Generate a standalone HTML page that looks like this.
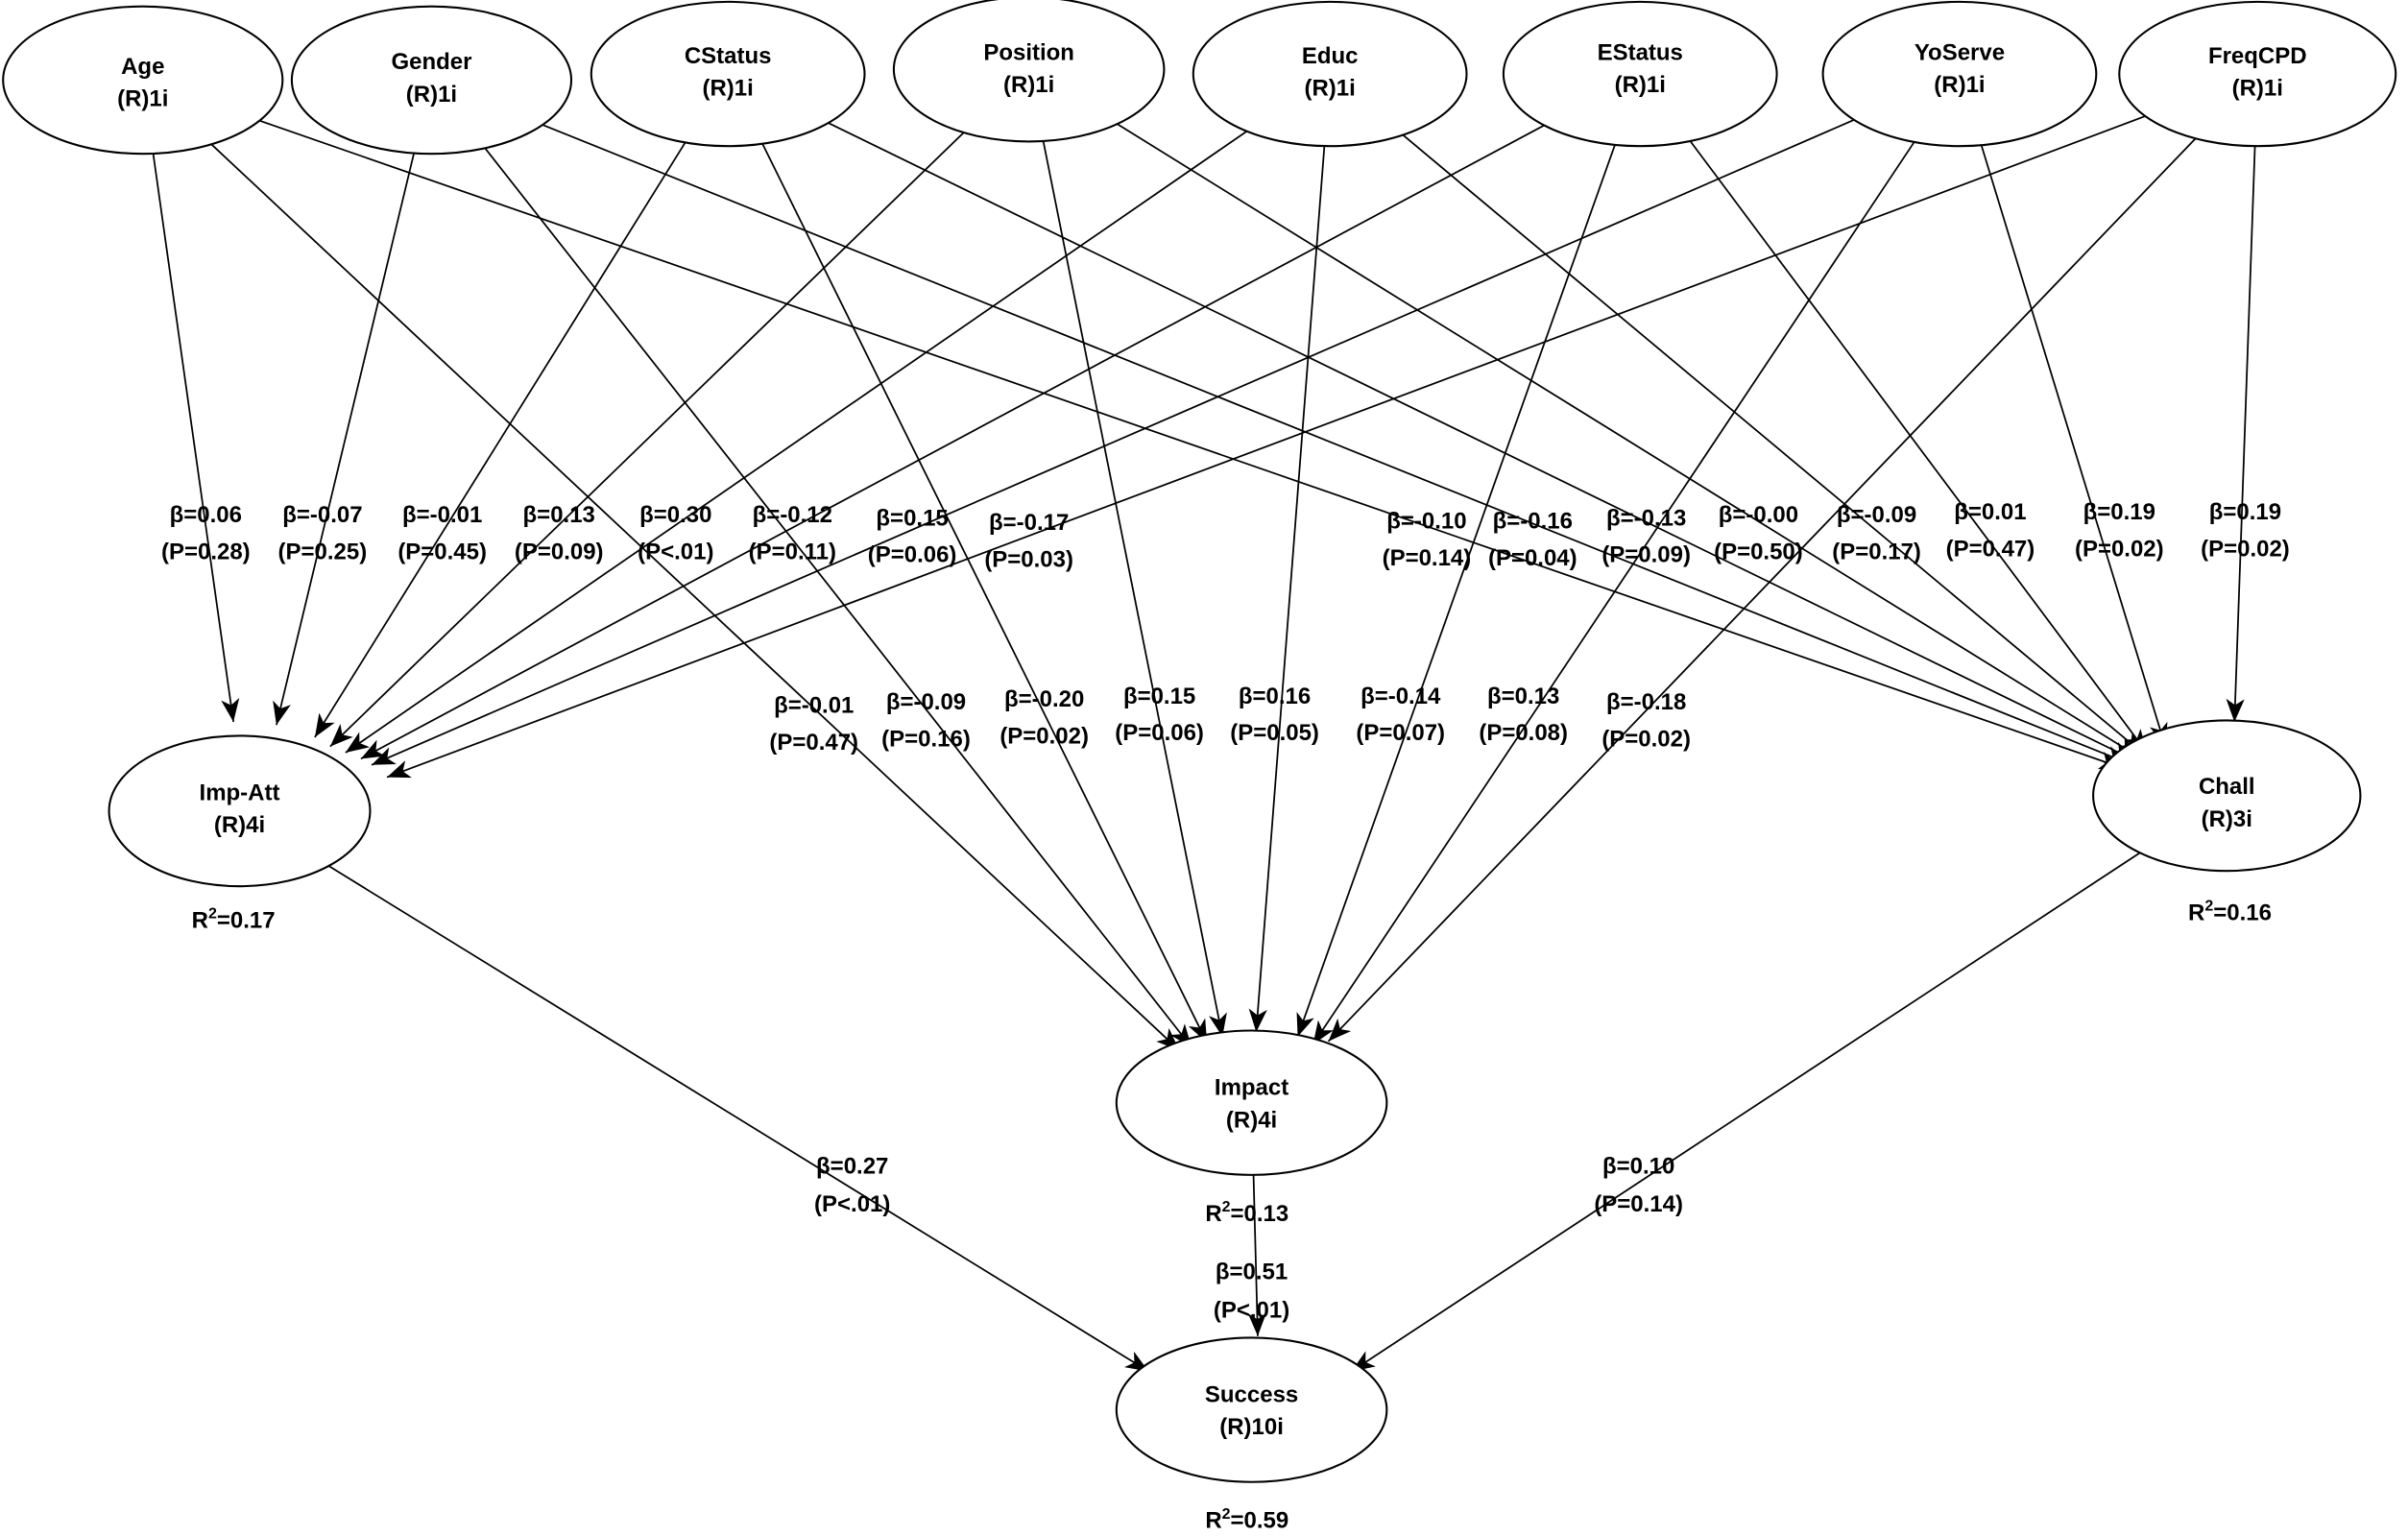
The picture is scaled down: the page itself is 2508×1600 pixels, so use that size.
<!DOCTYPE html>
<html><head><meta charset="utf-8">
<style>
html,body{margin:0;padding:0;background:#fff;}
svg{display:block;}
text{font-family:"Liberation Sans",Arial,sans-serif;font-weight:bold;font-size:15px;fill:#000;text-anchor:middle;}
</style></head>
<body>
<svg id="s" width="2508" height="1600" viewBox="0 0 1568 1000" xmlns="http://www.w3.org/2000/svg">
<defs>
<marker id="a" markerWidth="16" markerHeight="12" refX="15" refY="6" orient="auto" markerUnits="userSpaceOnUse">
<path d="M0,0 L15,6 L0,12 L4,6 Z" fill="#000"/>
</marker>
</defs>
<g id="lines" stroke="#000" stroke-width="1.1" fill="none"></g>
<g fill="#fff" stroke="#000" stroke-width="1.3">
<ellipse cx="93" cy="52" rx="91" ry="48"/>
<ellipse cx="281" cy="52" rx="91" ry="48"/>
<ellipse cx="474" cy="48" rx="89" ry="47"/>
<ellipse cx="670" cy="45" rx="88" ry="47"/>
<ellipse cx="866" cy="48" rx="89" ry="47"/>
<ellipse cx="1068" cy="48" rx="89" ry="47"/>
<ellipse cx="1276" cy="48" rx="89" ry="47"/>
<ellipse cx="1470" cy="48" rx="90" ry="47"/>
<ellipse cx="156" cy="528" rx="85" ry="49"/>
<ellipse cx="1450" cy="518" rx="87" ry="49"/>
<ellipse cx="815" cy="718" rx="88" ry="47"/>
<ellipse cx="815" cy="918" rx="88" ry="47"/>
</g>
<g>
<text x="93" y="48">Age</text><text x="93" y="69">(R)1i</text>
<text x="281" y="45">Gender</text><text x="281" y="66">(R)1i</text>
<text x="474" y="41">CStatus</text><text x="474" y="62">(R)1i</text>
<text x="670" y="39">Position</text><text x="670" y="60">(R)1i</text>
<text x="866" y="41">Educ</text><text x="866" y="62">(R)1i</text>
<text x="1068" y="39">EStatus</text><text x="1068" y="60">(R)1i</text>
<text x="1276" y="39">YoServe</text><text x="1276" y="60">(R)1i</text>
<text x="1470" y="41">FreqCPD</text><text x="1470" y="62">(R)1i</text>
<text x="156" y="521">Imp-Att</text><text x="156" y="542">(R)4i</text>
<text x="1450" y="517">Chall</text><text x="1450" y="538">(R)3i</text>
<text x="815" y="713">Impact</text><text x="815" y="734">(R)4i</text>
<text x="815" y="913">Success</text><text x="815" y="934">(R)10i</text>
<text x="152" y="604">R<tspan font-size="10" dy="-6">2</tspan><tspan dy="6">=0.17</tspan></text>
<text x="1452" y="599">R<tspan font-size="10" dy="-6">2</tspan><tspan dy="6">=0.16</tspan></text>
<text x="812" y="795">R<tspan font-size="10" dy="-6">2</tspan><tspan dy="6">=0.13</tspan></text>
<text x="812" y="995">R<tspan font-size="10" dy="-6">2</tspan><tspan dy="6">=0.59</tspan></text>

<text x="134" y="340">β=0.06</text><text x="134" y="364">(P=0.28)</text>
<text x="210" y="340">β=-0.07</text><text x="210" y="364">(P=0.25)</text>
<text x="288" y="340">β=-0.01</text><text x="288" y="364">(P=0.45)</text>
<text x="364" y="340">β=0.13</text><text x="364" y="364">(P=0.09)</text>
<text x="440" y="340">β=0.30</text><text x="440" y="364">(P&lt;.01)</text>
<text x="516" y="340">β=-0.12</text><text x="516" y="364">(P=0.11)</text>
<text x="594" y="342">β=0.15</text><text x="594" y="366">(P=0.06)</text>
<text x="670" y="345">β=-0.17</text><text x="670" y="369">(P=0.03)</text>

<text x="929" y="344">β=-0.10</text><text x="929" y="368">(P=0.14)</text>
<text x="998" y="344">β=-0.16</text><text x="998" y="368">(P=0.04)</text>
<text x="1072" y="342">β=-0.13</text><text x="1072" y="366">(P=0.09)</text>
<text x="1145" y="340">β=-0.00</text><text x="1145" y="364">(P=0.50)</text>
<text x="1222" y="340">β=-0.09</text><text x="1222" y="364">(P=0.17)</text>
<text x="1296" y="338">β=0.01</text><text x="1296" y="362">(P=0.47)</text>
<text x="1380" y="338">β=0.19</text><text x="1380" y="362">(P=0.02)</text>
<text x="1462" y="338">β=0.19</text><text x="1462" y="362">(P=0.02)</text>

<text x="530" y="464">β=-0.01</text><text x="530" y="488">(P=0.47)</text>
<text x="603" y="462">β=-0.09</text><text x="603" y="486">(P=0.16)</text>
<text x="680" y="460">β=-0.20</text><text x="680" y="484">(P=0.02)</text>
<text x="755" y="458">β=0.15</text><text x="755" y="482">(P=0.06)</text>
<text x="830" y="458">β=0.16</text><text x="830" y="482">(P=0.05)</text>
<text x="912" y="458">β=-0.14</text><text x="912" y="482">(P=0.07)</text>
<text x="992" y="458">β=0.13</text><text x="992" y="482">(P=0.08)</text>
<text x="1072" y="462">β=-0.18</text><text x="1072" y="486">(P=0.02)</text>

<text x="555" y="764">β=0.27</text><text x="555" y="789">(P&lt;.01)</text>
<text x="815" y="833">β=0.51</text><text x="815" y="858">(P&lt;.01)</text>
<text x="1067" y="764">β=0.10</text><text x="1067" y="789">(P=0.14)</text>
</g>
</svg>
<script>
(function(){
var src=[[93,52,91,48],[281,52,91,48],[474,48,89,47],[670,45,88,47],[866,48,89,47],[1068,48,89,47],[1276,48,89,47],[1470,48,90,47]];
var imp=[[152,470],[180,472],[205,480],[215,486],[225,490],[235,494],[242,498],[252,506]];
var chall=[[1382,500],[1386,497],[1390,495],[1393,493],[1396,491],[1398,490],[1410,486],[1455,470]];
var impact=[[768,684],[776,682],[786,679],[796,675],[818,672],[845,675],[855,680],[865,678]];
var g=document.getElementById('lines');
function line(s,e){
 var dx=e[0]-s[0],dy=e[1]-s[1];
 var t=1/Math.sqrt((dx/s[2])*(dx/s[2])+(dy/s[3])*(dy/s[3]));
 var x1=s[0]+dx*t,y1=s[1]+dy*t;
 var l=document.createElementNS('http://www.w3.org/2000/svg','line');
 l.setAttribute('x1',x1);l.setAttribute('y1',y1);l.setAttribute('x2',e[0]);l.setAttribute('y2',e[1]);
 l.setAttribute('marker-end','url(#a)');g.appendChild(l);
}
for(var i=0;i<8;i++){line(src[i],imp[i]);line(src[i],impact[i]);line(src[i],chall[i]);}
line([156,528,85,49],[748,893]);
line([1450,518,87,49],[880,893]);
line([815,718,88,47],[819,870]);
})();
</script>
</body></html>
